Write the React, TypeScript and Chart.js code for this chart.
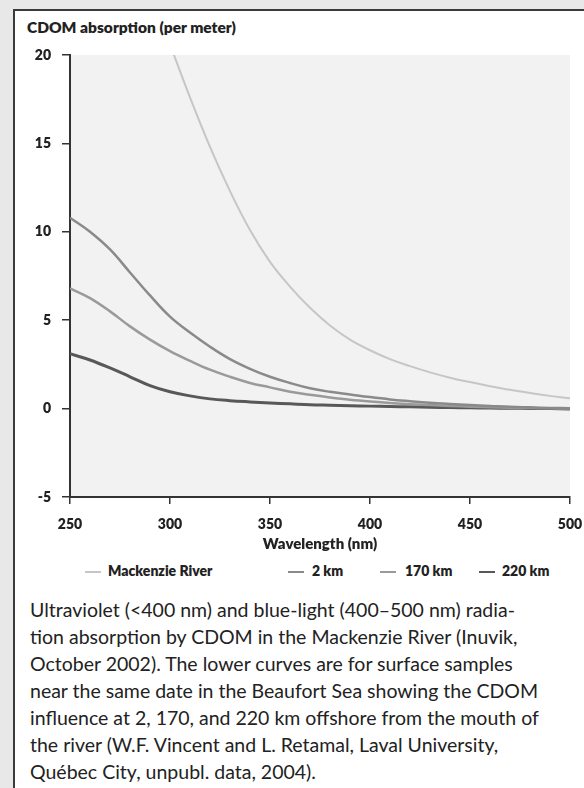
import React, { useEffect, useRef } from "react";
import { Chart, registerables } from "chart.js";

Chart.register(...registerables);

// ---- data ----
const wavelengths = [250, 260, 270, 280, 290, 300, 310, 320, 330, 340, 350, 360, 370, 380, 390, 400, 410, 420, 430, 440, 450, 460, 470, 480, 490, 500];
const mackenzieRiver = [null, null, null, null, null, 20.6, 17.6, 14.8, 12.3, 10.1, 8.3, 6.9, 5.7, 4.7, 3.9, 3.3, 2.8, 2.4, 2.05, 1.75, 1.5, 1.27, 1.06, 0.88, 0.72, 0.58];
const km2 = [10.8, 10.0, 9.0, 7.7, 6.4, 5.2, 4.3, 3.5, 2.8, 2.25, 1.8, 1.45, 1.15, 0.95, 0.8, 0.65, 0.52, 0.42, 0.33, 0.26, 0.2, 0.15, 0.1, 0.07, 0.04, 0.02];
const km170 = [6.8, 6.25, 5.5, 4.65, 3.9, 3.25, 2.7, 2.2, 1.8, 1.45, 1.2, 0.95, 0.78, 0.63, 0.5, 0.4, 0.32, 0.25, 0.2, 0.15, 0.11, 0.08, 0.05, 0.03, 0.02, 0.0];
const km220 = [3.1, 2.75, 2.3, 1.8, 1.3, 0.95, 0.72, 0.55, 0.45, 0.38, 0.32, 0.27, 0.22, 0.19, 0.16, 0.14, 0.12, 0.1, 0.08, 0.06, 0.05, 0.03, 0.02, 0.01, 0.0, -0.02];

const seriesNames = ["Mackenzie River", "2 km", "170 km", "220 km"];
const seriesValues = [mackenzieRiver, km2, km170, km220];

const xTicks = [250, 300, 350, 400, 450, 500];
const yTicks = [-5, 0, 5, 10, 15, 20];

const chartTitle = "CDOM absorption (per meter)";
const xTitle = "Wavelength (nm)";
const captionLines = [
  "Ultraviolet (<400 nm) and blue-light (400–500 nm) radia-",
  "tion absorption by CDOM in the Mackenzie River (Inuvik,",
  "October 2002). The lower curves are for surface samples",
  "near the same date in the Beaufort Sea showing the CDOM",
  "influence at 2, 170, and 220 km offshore from the mouth of",
  "the river (W.F. Vincent and L. Retamal, Laval University,",
  "Québec City, unpubl. data, 2004).",
];

// ---- styles ----
const lineColors = ["#c6c6c6", "#8a8a8a", "#9a9a9a", "#585858"];
const lineWidths = [2, 2.5, 2.5, 3];
const legendLineX = [85, 288, 380, 479];
const legendTextX = [108, 312, 405, 502];
const FONT = "Lato, 'Open Sans', sans-serif";
const INK = "#222";

const W = 584;
const CANVAS_H = 556;
const AREA_RIGHT = 570;
const AREA_LEFT = 70;
const AREA_TOP = 55;
const AREA_BOTTOM = 497;

const plotBg = {
  id: "plotBg",
  beforeDraw(chart: any) {
    const { ctx, chartArea } = chart;
    ctx.save();
    ctx.fillStyle = "#f2f2f2";
    ctx.fillRect(chartArea.left, chartArea.top, chartArea.right - chartArea.left, chartArea.bottom - chartArea.top);
    ctx.restore();
  },
};

export default function App() {
  const ref = useRef<HTMLCanvasElement | null>(null);

  useEffect(() => {
    if (!ref.current) return;
    const chart = new Chart(ref.current, {
      type: "line",
      data: {
        datasets: seriesNames.map((name, si) => ({
          label: name,
          data: wavelengths.map((w, i) => ({ x: w, y: seriesValues[si][i] })),
          borderColor: lineColors[si],
          backgroundColor: lineColors[si],
          borderWidth: lineWidths[si],
          pointRadius: 0,
          tension: 0.4,
          fill: false,
        })),
      },
      options: {
        animation: false,
        responsive: false,
        devicePixelRatio: 1,
        layout: { padding: { left: 0, right: W - AREA_RIGHT, top: AREA_TOP, bottom: 0 } },
        plugins: { legend: { display: false }, tooltip: { enabled: false }, title: { display: false } },
        scales: {
          x: {
            type: "linear",
            min: 250,
            max: 500,
            afterBuildTicks: (s: any) => { s.ticks = xTicks.map((v) => ({ value: v })); },
            afterFit: (s: any) => { s.height = CANVAS_H - AREA_BOTTOM; s.paddingLeft = 0; s.paddingRight = 0; },
            grid: { display: true, drawOnChartArea: false, drawTicks: true, tickLength: 7, color: "#333", lineWidth: 1.5 },
            border: { display: true, color: "#333", width: 2 },
            ticks: { color: INK, font: { family: FONT, size: 14, weight: "800" }, padding: 12, maxRotation: 0 },
            title: { display: true, text: xTitle, color: INK, font: { family: FONT, size: 15, weight: "800" }, padding: { top: 0, bottom: 3 } },
          },
          y: {
            type: "linear",
            min: -5,
            max: 20,
            afterBuildTicks: (s: any) => { s.ticks = yTicks.map((v) => ({ value: v })); },
            afterFit: (s: any) => { s.width = AREA_LEFT; s.paddingTop = 0; s.paddingBottom = 0; },
            grid: { display: true, drawOnChartArea: false, drawTicks: true, tickLength: 8, color: "#333", lineWidth: 1.5 },
            border: { display: true, color: "#333", width: 2 },
            ticks: { color: INK, font: { family: FONT, size: 14, weight: "800" }, padding: 11 },
          },
        },
      },
      plugins: [plotBg],
    } as any);
    return () => chart.destroy();
  }, []);

  return (
    <div style={{ position: "fixed", left: 0, top: 0, width: W, height: 788, background: "#e8e8e8", overflow: "hidden" }}>
      <div style={{ position: "absolute", left: 13, top: 9, right: 0, bottom: 0, background: "#fff", borderLeft: "2px solid #3a3a3a", borderTop: "2px solid #3a3a3a" }} />
      <div style={{ position: "absolute", left: 27, top: 18, fontFamily: FONT, fontWeight: 800, fontSize: 15.5, color: INK, whiteSpace: "nowrap" }}>{chartTitle}</div>
      <canvas ref={ref} width={W} height={CANVAS_H} style={{ position: "absolute", left: 0, top: 0, width: W, height: CANVAS_H }} />
      {seriesNames.map((name, i) => (
        <React.Fragment key={name}>
          <div style={{ position: "absolute", left: legendLineX[i], top: 571, width: 16, height: 2, background: lineColors[i] }} />
          <div style={{ position: "absolute", left: legendTextX[i], top: 562, fontFamily: FONT, fontWeight: 800, fontSize: 14, color: INK, whiteSpace: "nowrap" }}>{name}</div>
        </React.Fragment>
      ))}
      <div style={{ position: "absolute", left: 30, top: 596, fontFamily: FONT, fontSize: 19.5, lineHeight: "27px", color: INK, whiteSpace: "nowrap" }}>
        {captionLines.map((l, i) => (<div key={i}>{l}</div>))}
      </div>
    </div>
  );
}
